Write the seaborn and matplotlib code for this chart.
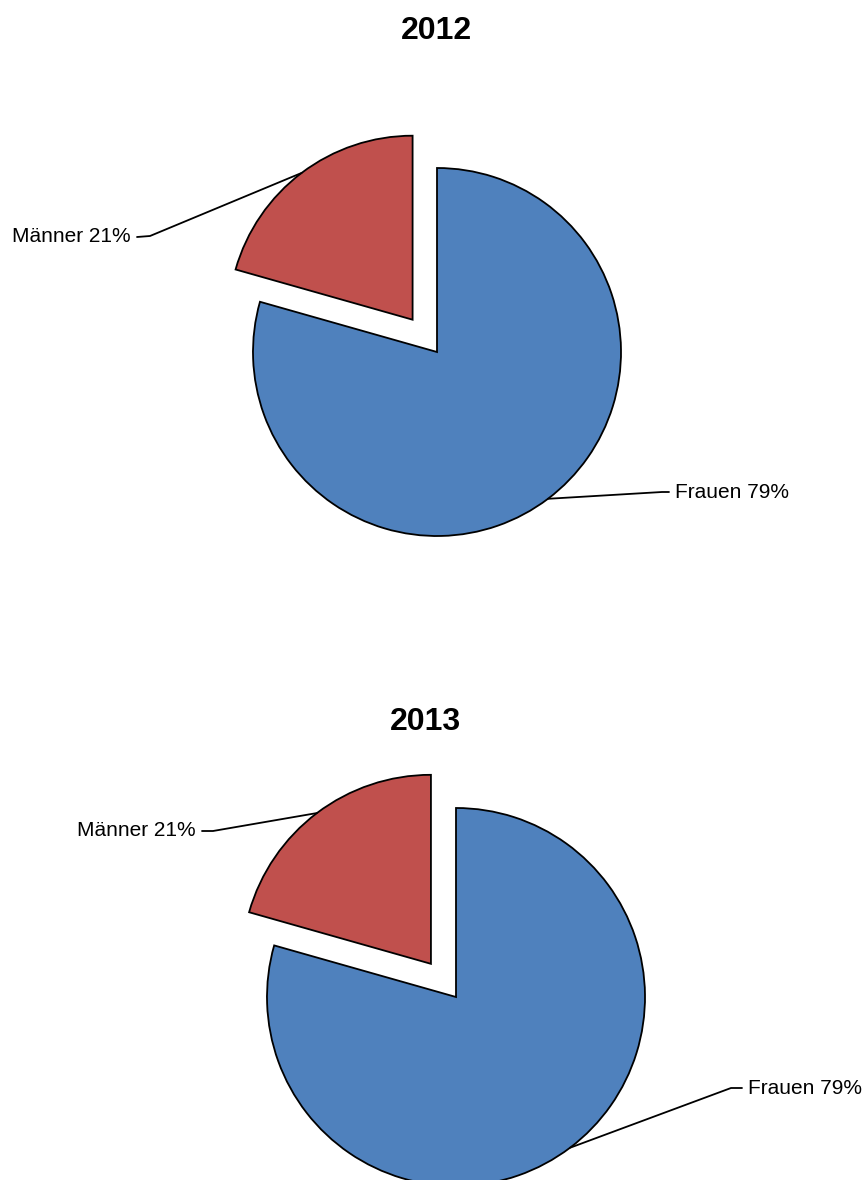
"""Two exploded pies: Männer / Frauen 2012 and 2013"""
import numpy as np
import matplotlib.pyplot as plt
import seaborn as sns

years = ["2012", "2013"]
categories = ["Frauen", "Männer"]
shares = {"2012": [79.4, 20.6], "2013": [79.4, 20.6]}
colors = ["#4F81BD", "#C0504D"]

sns.set_style("white")
plt.rcParams["font.family"] = ["Liberation Sans", "DejaVu Sans"]
plt.rcParams["text.color"] = "black"

W, H = 868, 1180
fig = plt.figure(figsize=(W / 100, H / 100), dpi=100)

# pixel layout for each pie: centre, radius, title position, label elbows
layout = {
    "2012": dict(c=(437, 352), r=184, title=(436, 31),
                 elbows=[((662, 492), (669, 492)), ((150, 236), (137, 237))]),
    "2013": dict(c=(456, 997), r=189, title=(425, 722),
                 elbows=[((731, 1088), (742, 1088)), ((213, 831), (202, 831))]),
}
explode = 0.22

for year in years:
    L = layout[year]
    cx, cy = L["c"]
    r = L["r"]
    ax = fig.add_axes([0, 0, 1, 1])
    ax.axis("off")

    def px(p):
        return ((p[0] - cx) / r, (cy - p[1]) / r)

    wedges, _ = ax.pie(shares[year], colors=colors, startangle=90, counterclock=False,
                       explode=[0, explode], radius=1,
                       wedgeprops=dict(edgecolor="black", linewidth=1.3))
    ax.set_aspect("equal")
    ax.set_xlim(-cx / r, (W - cx) / r)
    ax.set_ylim(-(H - cy) / r, cy / r)

    for w, cat, val, (elbow, end) in zip(wedges, categories, shares[year], L["elbows"]):
        mid = np.deg2rad((w.theta1 + w.theta2) / 2)
        ox, oy = w.center
        arc = (ox + np.cos(mid), oy + np.sin(mid))
        e1, e2 = px(elbow), px(end)
        ax.plot([arc[0], e1[0], e2[0]], [arc[1], e1[1], e2[1]], color="black", lw=1.3)
        right = e2[0] > e1[0]
        gap = 6 / r
        ax.text(e2[0] + (gap if right else -gap), e2[1], f"{cat} {round(val)}%",
                ha="left" if right else "right", va="center", fontsize=15)

    tx, ty = px(L["title"])
    ax.text(tx, ty, year, ha="center", va="center", fontsize=23, fontweight="bold")

fig.savefig("out.png", dpi=100)
